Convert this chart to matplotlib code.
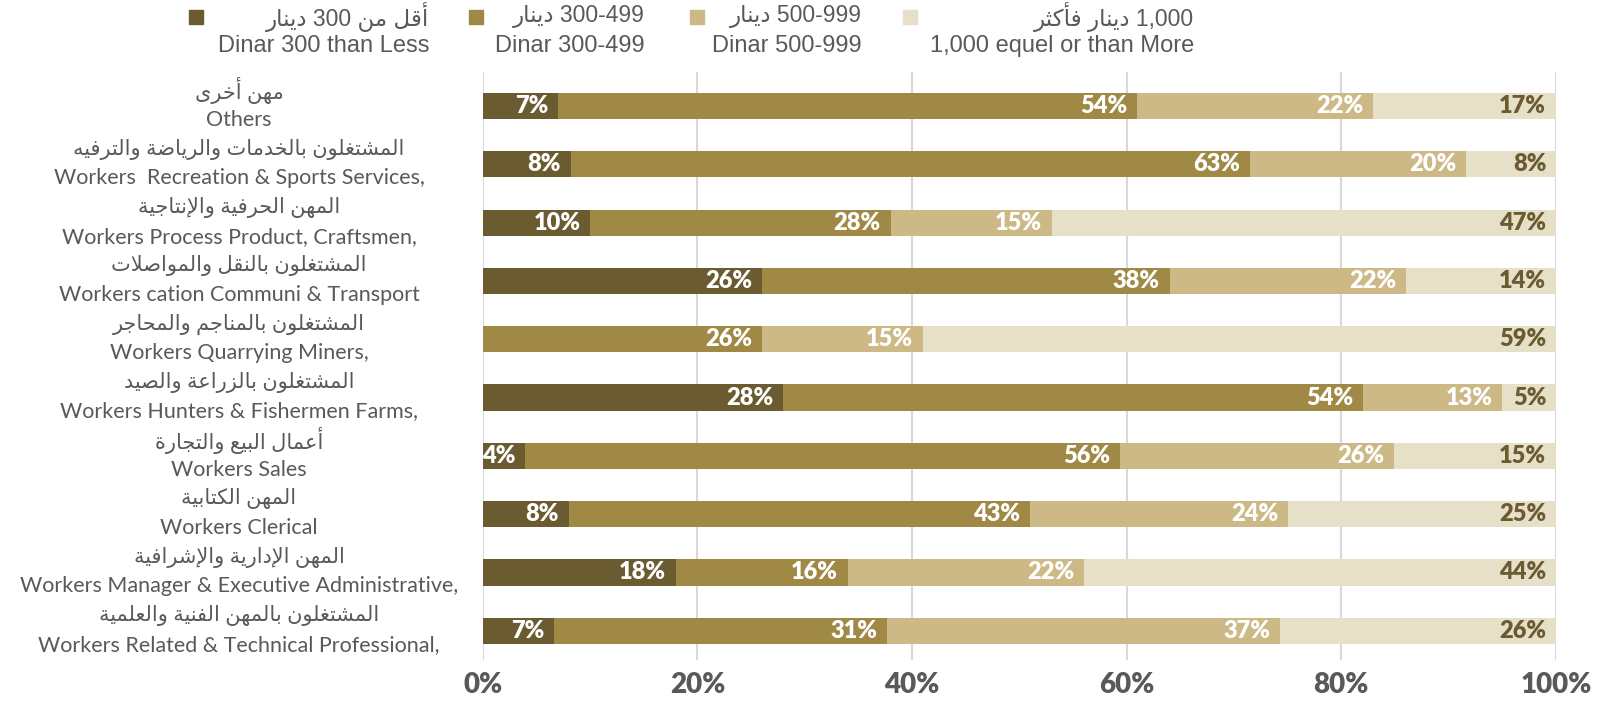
import numpy as np
import matplotlib
matplotlib.use('Agg')
import matplotlib.pyplot as plt
from matplotlib.transforms import blended_transform_factory

# ---- data (top row first) ----
cats_ar = ['مهن أخرى',
           'المشتغلون بالخدمات والرياضة والترفيه',
           'المهن الحرفية والإنتاجية',
           'المشتغلون بالنقل والمواصلات',
           'المشتغلون بالمناجم والمحاجر',
           'المشتغلون بالزراعة والصيد',
           'أعمال البيع والتجارة',
           'المهن الكتابية',
           'المهن الإدارية والإشرافية',
           'المشتغلون بالمهن الفنية والعلمية']
cats_en = ['Others',
           'Workers  Recreation & Sports Services,',
           'Workers Process Product, Craftsmen,',
           'Workers cation Communi & Transport',
           'Workers Quarrying Miners,',
           'Workers Hunters & Fishermen Farms,',
           'Workers Sales',
           'Workers Clerical',
           'Workers Manager & Executive Administrative,',
           'Workers Related & Technical Professional,']

under_300 = [7, 8.2, 10, 26, 0, 28, 3.9, 8, 18, 6.6]
d300_499 = [54, 63.3, 28, 38, 26, 54, 55.5, 43, 16, 31.1]
d500_999 = [22, 20.1, 15, 22, 15, 13, 25.5, 24, 22, 36.6]
over_1000 = [17, 8.4, 47, 14, 59, 5, 15.1, 25, 44, 25.7]

series_ar = ['أقل من 300 دينار', '300-499 دينار', '500-999 دينار', '1,000 دينار فأكثر']
series_en = ['Dinar 300 than Less', 'Dinar 300-499', 'Dinar 500-999', '1,000 equel or than More']
colors = ['#6B5B30', '#9F8945', '#CDB986', '#E6E0C9']
label_colors = ['white', 'white', 'white', '#6B5B30']
xticks = [0, 20, 40, 60, 80, 100]

# ---- tiny arabic shaping (matplotlib has no bidi/shaping) ----
FORMS = {
    'ء': (0xFE80, 1), 'آ': (0xFE81, 2), 'أ': (0xFE83, 2), 'ؤ': (0xFE85, 2), 'إ': (0xFE87, 2),
    'ئ': (0xFE89, 4), 'ا': (0xFE8D, 2), 'ب': (0xFE8F, 4), 'ة': (0xFE93, 2), 'ت': (0xFE95, 4),
    'ث': (0xFE99, 4), 'ج': (0xFE9D, 4), 'ح': (0xFEA1, 4), 'خ': (0xFEA5, 4), 'د': (0xFEA9, 2),
    'ذ': (0xFEAB, 2), 'ر': (0xFEAD, 2), 'ز': (0xFEAF, 2), 'س': (0xFEB1, 4), 'ش': (0xFEB5, 4),
    'ص': (0xFEB9, 4), 'ض': (0xFEBD, 4), 'ط': (0xFEC1, 4), 'ظ': (0xFEC5, 4), 'ع': (0xFEC9, 4),
    'غ': (0xFECD, 4), 'ف': (0xFED1, 4), 'ق': (0xFED5, 4), 'ك': (0xFED9, 4), 'ل': (0xFEDD, 4),
    'م': (0xFEE1, 4), 'ن': (0xFEE5, 4), 'ه': (0xFEE9, 4), 'و': (0xFEED, 2), 'ى': (0xFEEF, 2),
    'ي': (0xFEF1, 4),
}
LAM_ALEF = {'ا': 0xFEFB, 'أ': 0xFEF7, 'إ': 0xFEF9, 'آ': 0xFEF5}


def shape_word(w):
    units = []
    i = 0
    while i < len(w):
        c = w[i]
        if c == 'ل' and i + 1 < len(w) and w[i + 1] in LAM_ALEF:
            units.append((LAM_ALEF[w[i + 1]], 2))
            i += 2
            continue
        units.append(FORMS.get(c, (ord(c), 0)))
        i += 1
    out = []
    for k, (base, n) in enumerate(units):
        if n <= 1:
            out.append(chr(base))
            continue
        prev = k > 0 and units[k - 1][1] == 4
        nxt = n == 4 and k + 1 < len(units) and units[k + 1][1] in (2, 4)
        if prev and nxt:
            out.append(chr(base + 3))
        elif prev:
            out.append(chr(base + 1))
        elif nxt:
            out.append(chr(base + 2))
        else:
            out.append(chr(base))
    return ''.join(out)


def ar(text):
    vis = []
    for w in reversed(text.split(' ')):
        if any('\u0600' <= c <= '\u06ff' for c in w):
            vis.append(shape_word(w)[::-1])
        else:
            vis.append(w)
    return ' '.join(vis)


fig = plt.figure(figsize=(16.04, 7.08), dpi=100)
ax = fig.add_axes([0.301, 0.068, 0.669, 0.830])

data = np.array([under_300, d300_499, d500_999, over_1000])
y = np.arange(len(cats_en))
left = np.zeros(len(cats_en))
for s in range(4):
    vals = data[s]
    ax.barh(y, vals, left=left, height=0.45, color=colors[s], zorder=3)
    for yi, v, l in zip(y, vals, left):
        if v <= 0:
            continue
        ax.annotate(f'{v:.0f}%', xy=(l + v, yi), xytext=(-7, 0), textcoords='offset points',
                    ha='right', va='center', color=label_colors[s], fontsize=17,
                    fontweight='heavy', family=['Lato', 'DejaVu Sans'], zorder=4)
    left += vals

ax.set_xlim(0, 100)
ax.set_ylim(9.5, -0.58)
ax.set_xticks(xticks)
ax.set_xticklabels([f'{t}%' for t in xticks], fontsize=20, fontweight='heavy', color='#595959',
                   family=['Lato', 'DejaVu Sans'])
ax.tick_params(axis='x', length=0, pad=9)
ax.set_yticks([])
ax.grid(axis='x', color='#D9D9D9', linewidth=1.5, zorder=0)
for sp in ax.spines.values():
    sp.set_visible(False)

# category labels, two lines each
tr = blended_transform_factory(fig.transFigure, ax.transData)
for yi, a, e in zip(y, cats_ar, cats_en):
    ax.text(0.149, yi - 0.26, ar(a), transform=tr, ha='center', va='center', fontsize=15,
            color='#595959', family=['Lato', 'DejaVu Sans'])
    ax.text(0.149, yi + 0.24, e, transform=tr, ha='center', va='center', fontsize=15.5,
            color='#595959', family=['Lato', 'DejaVu Sans'])

# legend drawn by hand: marker + right aligned arabic / english lines
marker_x = [196, 476, 697, 910]
text_right = [429, 645, 862, 1194]
W, H = 1604, 708
for s in range(4):
    fig.patches.append(plt.Rectangle(((marker_x[s] - 7) / W, 1 - 24 / H), 14 / W, 14 / H,
                                     transform=fig.transFigure, color=colors[s]))
    fig.text(text_right[s] / W, 1 - 17 / H, ar(series_ar[s]), ha='right', va='center',
             fontsize=16.5, color='#595959', family=['Liberation Sans', 'DejaVu Sans'])
    fig.text(text_right[s] / W, 1 - 46 / H, series_en[s], ha='right', va='center',
             fontsize=17, color='#595959', family=['Liberation Sans', 'DejaVu Sans'])

fig.savefig('out.png', dpi=100)
